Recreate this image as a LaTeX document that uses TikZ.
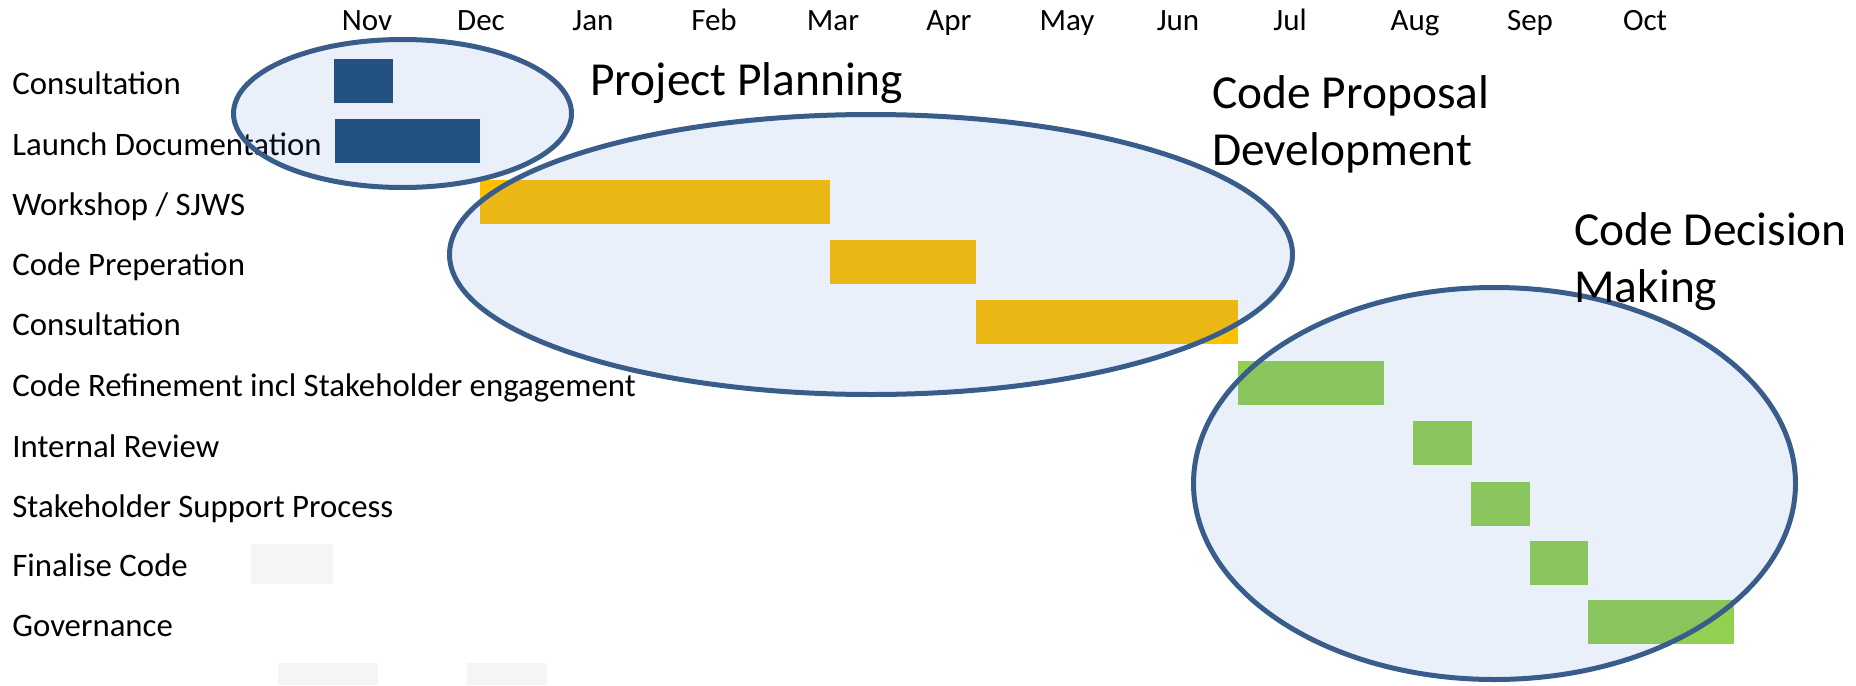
\documentclass[tikz,border=0pt]{standalone}
\usepackage{fontspec}
\setmainfont{Carlito}
\usepackage{tikz}
\usetikzlibrary{positioning}
\usepgflibrary{shapes.geometric}

\definecolor{barblue}{HTML}{1F4E79}
\definecolor{barorange}{HTML}{FFC000}
\definecolor{bargreen}{HTML}{92D050}
\definecolor{ringblue}{HTML}{385D8A}
\definecolor{ringfill}{HTML}{4472C4}

\begin{document}
\begin{tikzpicture}[x=0.5pt, y=-0.5pt,
    month/.style={anchor=base, inner sep=0, font=\fontsize{15.5}{18}\selectfont},
    task/.style={anchor=base west, inner sep=0, font=\fontsize{16.4}{19}\selectfont},
    bar/.style={anchor=west, inner sep=0, minimum height=22pt},
    ring/.style={ellipse, draw=ringblue, line width=2.5pt, inner sep=0, fill=ringfill, fill opacity=0.11},
    phase/.style={anchor=base west, inner sep=0, align=left, font=\fontsize{23.7}{28.5}\selectfont},
    ghost/.style={anchor=north west, inner sep=0, fill=black!4}]
    \useasboundingbox (0,0) rectangle (1856,685);
    % months
    \node[month] (M1) at (367,30) {Nov};
    \node[month] (M2) at (481,30) {Dec};
    \node[month] (M3) at (593,30) {Jan};
    \node[month] (M4) at (714,30) {Feb};
    \node[month] (M5) at (833,30) {Mar};
    \node[month] (M6) at (949,30) {Apr};
    \node[month] (M7) at (1067,30) {May};
    \node[month] (M8) at (1178,30) {Jun};
    \node[month] (M9) at (1290,30) {Jul};
    \node[month] (M10) at (1415,30) {Aug};
    \node[month] (M11) at (1530,30) {Sep};
    \node[month] (M12) at (1645,30) {Oct};
    % tasks
    \node[task] (R1) at (12,94.5) {Consultation};
    \node[task] (R2) at (12,155) {Launch Documentation};
    \node[task] (R3) at (12,215) {Workshop / SJWS};
    \node[task] (R4) at (12,275.5) {Code Preperation};
    \node[task] (R5) at (12,335.5) {Consultation};
    \node[task] (R6) at (12,396) {Code Refinement incl Stakeholder engagement};
    \node[task] (R7) at (12,457) {Internal Review};
    \node[task] (R8) at (12,517) {Stakeholder Support Process};
    \node[task] (R9) at (12,576.5) {Finalise Code};
    \node[task] (R10) at (12,636) {Governance};
    % bars
    \node[bar, fill=barblue, minimum width=29.5pt] (B1) at (334,81) {};
    \node[bar, fill=barblue, minimum width=72.5pt] (B2) at (335,141) {};
    \node[bar, fill=barorange, minimum width=175pt] (B3) at (480,201.5) {};
    \node[bar, fill=barorange, minimum width=73pt] (B4) at (830,262) {};
    \node[bar, fill=barorange, minimum width=131pt] (B5) at (976,322) {};
    \node[bar, fill=bargreen, minimum width=73pt] (B6) at (1238,382.5) {};
    \node[bar, fill=bargreen, minimum width=29.5pt] (B7) at (1413,443) {};
    \node[bar, fill=bargreen, minimum width=29.5pt] (B8) at (1471,503.5) {};
    \node[bar, fill=bargreen, minimum width=29pt] (B9) at (1530,563) {};
    \node[bar, fill=bargreen, minimum width=73pt] (B10) at (1588,622) {};
    % faint patches
    \node[ghost, minimum width=41pt, minimum height=20pt] (G1) at (251,544) {};
    \node[ghost, minimum width=50pt, minimum height=11pt] (G2) at (278,663) {};
    \node[ghost, minimum width=40pt, minimum height=11pt] (G3) at (467,663) {};
    % phases
    \node[ring, minimum width=169pt, minimum height=74pt] (E1) at (402.5,113.5) {};
    \node[ring, minimum width=421.5pt, minimum height=140pt] (E2) at (871,254.5) {};
    \node[ring, minimum width=301pt, minimum height=196pt] (E3) at (1494.5,483.5) {};
    \node[phase] (T1) at (590,95) {Project Planning};
    \node[phase] (T2) at (1212,165) {Code Proposal\\Development};
    \node[phase] (T3) at (1574,302) {Code Decision\\Making};
\end{tikzpicture}
\end{document}
